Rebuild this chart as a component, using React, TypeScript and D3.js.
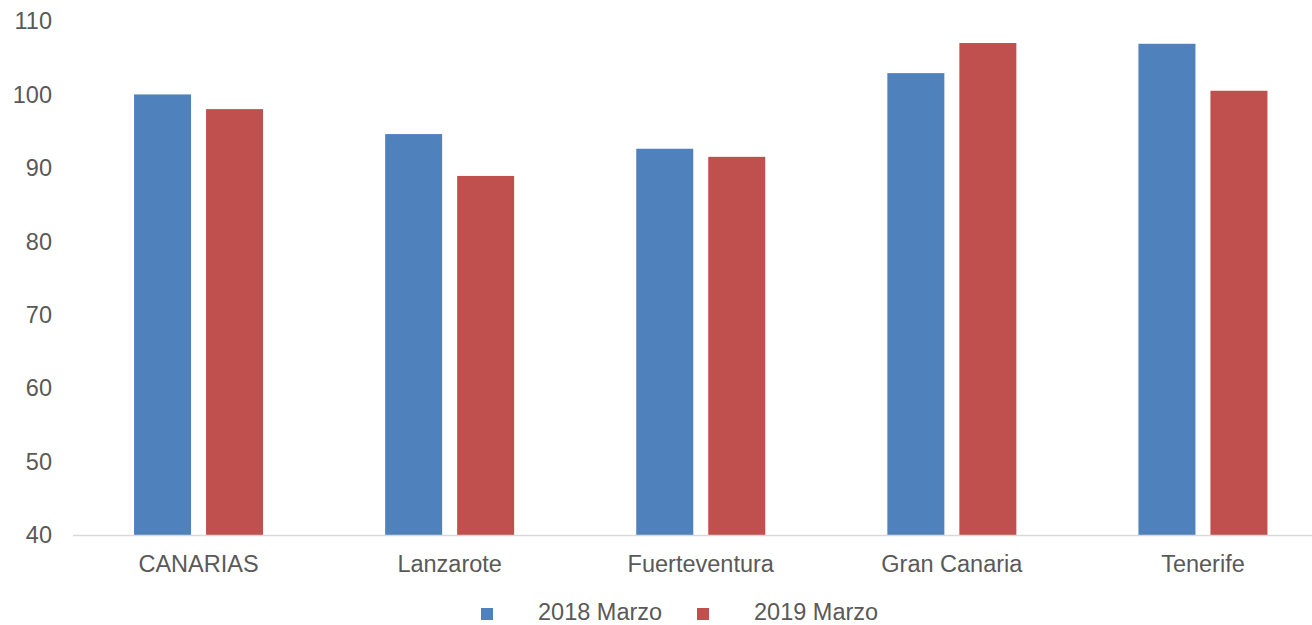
import React, { useEffect, useRef } from "react";
import * as d3 from "d3";

const categories = ["CANARIAS", "Lanzarote", "Fuerteventura", "Gran Canaria", "Tenerife"];
const seriesNames = ["2018 Marzo", "2019 Marzo"];
const values2018 = [100.0, 94.6, 92.6, 102.9, 106.9];
const values2019 = [98.0, 88.9, 91.5, 107.0, 100.5];
const yTicks = [40, 50, 60, 70, 80, 90, 100, 110];
const colors = ["#4f81bd", "#c0504d"];

const App = () => {
  const ref = useRef<SVGSVGElement>(null);

  useEffect(() => {
    const width = 1312;
    const height = 625;
    const svg = d3.select(ref.current);
    svg.selectAll("*").remove();
    svg.attr("width", width).attr("height", height);

    const font = "'Liberation Sans', Arial, sans-serif";
    const fontSize = 23.5;
    const textColor = "#595959";

    // plot area runs a little past the right edge like the original
    const xScale = d3.scaleBand<string>().domain(categories).range([73, 1328.5]);
    const yScale = d3.scaleLinear().domain([40, 110]).range([535, 21]);

    // y tick labels
    svg.append("g")
      .selectAll("text")
      .data(yTicks)
      .enter()
      .append("text")
      .attr("x", 52)
      .attr("y", (d) => yScale(d))
      .attr("dy", "0.35em")
      .attr("text-anchor", "end")
      .attr("font-family", font)
      .attr("font-size", fontSize)
      .attr("fill", textColor)
      .text((d) => d);

    // bars
    const barW = 57;
    const gap = 15;
    const series = [values2018, values2019];
    series.forEach((vals, si) => {
      svg.append("g")
        .selectAll("rect")
        .data(vals)
        .enter()
        .append("rect")
        .attr("x", (d, i) => {
          const c = xScale(categories[i])! + xScale.bandwidth() / 2;
          return si === 0 ? c - gap / 2 - barW : c + gap / 2;
        })
        .attr("y", (d) => yScale(d))
        .attr("width", barW)
        .attr("height", (d) => yScale(40) - yScale(d))
        .attr("fill", colors[si]);
    });

    // x axis line
    svg.append("line")
      .attr("x1", 73)
      .attr("x2", width)
      .attr("y1", yScale(40) + 0.5)
      .attr("y2", yScale(40) + 0.5)
      .attr("stroke", "#d9d9d9")
      .attr("stroke-width", 1.5);

    // category labels
    svg.append("g")
      .selectAll("text")
      .data(categories)
      .enter()
      .append("text")
      .attr("x", (d) => xScale(d)! + xScale.bandwidth() / 2)
      .attr("y", 572)
      .attr("text-anchor", "middle")
      .attr("font-family", font)
      .attr("font-size", fontSize)
      .attr("fill", textColor)
      .text((d) => d);

    // legend
    const legendX = [481, 697];
    seriesNames.forEach((name, i) => {
      svg.append("rect")
        .attr("x", legendX[i])
        .attr("y", 608)
        .attr("width", 12)
        .attr("height", 12)
        .attr("fill", colors[i]);
      svg.append("text")
        .attr("x", legendX[i] + 57)
        .attr("y", 620)
        .attr("font-family", font)
        .attr("font-size", fontSize)
        .attr("fill", textColor)
        .text(name);
    });
  }, []);

  return <svg ref={ref} style={{ position: "absolute", left: 0, top: 0 }} />;
};

export default App;
